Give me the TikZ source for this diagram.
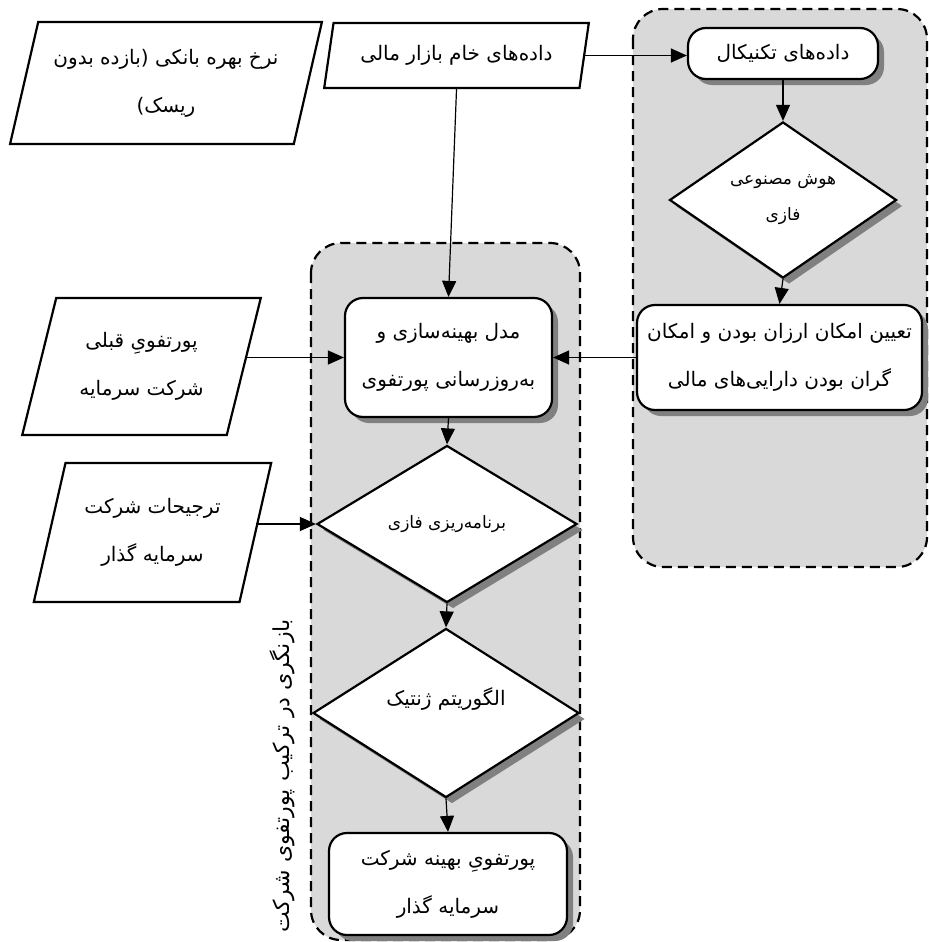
\documentclass[tikz,border=0pt]{standalone}
\usepackage{fontspec}
\newfontfamily\fafont[Script=Arabic]{DejaVu Sans}
\TeXXeTstate=1
\usetikzlibrary{shapes.geometric,shadows,arrows.meta}
\newcommand\fa[1]{{\fafont\beginR #1\endR}}
\begin{document}
\begin{tikzpicture}[x=0.5pt,y=-0.5pt,
  every node/.style={font=\fontsize{10}{24}\selectfont},
  shad/.style={drop shadow={shadow xshift=3pt,shadow yshift=-3pt,fill=black!50,opacity=1}},
  arr/.style={draw,line width=0.6pt,-{Triangle[length=8pt,width=7pt]}},
  box/.style={draw,line width=1.1pt,rounded corners=9pt,fill=white,shad,align=center,inner sep=0pt},
  dia/.style={diamond,draw,line width=1.1pt,fill=white,shad,align=center,inner sep=0pt},
  para/.style={trapezium,trapezium left angle=70,trapezium right angle=110,trapezium stretches=true,
    draw,line width=1.1pt,fill=white,align=center,inner sep=0pt},
  grp/.style={draw,dash pattern=on 5pt off 3pt,fill=gray!30,rounded corners=15pt,line width=1.1pt}]
\useasboundingbox (0,0) rectangle (929,942);
% containers
\draw[grp] (633,9) rectangle (927,567);
\draw[grp] (311,243) rectangle (580,940);
% nodes
\node[para,minimum width=156pt,minimum height=61pt] (rate) at (166,83)
  {\fa{نرخ بهره بانکی (بازده بدون}\\\fa{ریسک)}};
\node[para,minimum width=132.5pt,minimum height=32.5pt] (raw) at (456.5,55.5)
  {\fa{داده‌های خام بازار مالی}};
\node[para,minimum width=119.5pt,minimum height=68.5pt] (prev) at (141.5,366.5)
  {\fa{پورتفویِ قبلی}\\\fa{شرکت سرمایه}};
\node[para,minimum width=119.5pt,minimum height=69.5pt] (pref) at (152.5,532.5)
  {\fa{ترجیحات شرکت}\\\fa{سرمایه گذار}};
\node[box,minimum width=95pt,minimum height=25.5pt] (tech) at (783,53.5)
  {\fa{داده‌های تکنیکال}};
\node[dia,minimum width=113.5pt,minimum height=73pt,font=\fontsize{8.5}{18}\selectfont] (ai) at (783,200)
  {\fa{هوش مصنوعی}\\\fa{فازی}};
\node[box,minimum width=142.5pt,minimum height=52.5pt] (cheap) at (779.5,357.5)
  {\fa{تعیین امکان ارزان بودن و امکان}\\\fa{گران بودن دارایی‌های مالی}};
\node[box,minimum width=103.5pt,minimum height=59.5pt] (opt) at (448.5,357.5)
  {\fa{مدل بهینه‌سازی و}\\\fa{به‌روزرسانی پورتفوی}};
\node[dia,minimum width=130pt,minimum height=78.5pt,font=\fontsize{8.5}{18}\selectfont] (fp) at (447,524)
  {\fa{برنامه‌ریزی فازی}};
\node[dia,minimum width=133pt,minimum height=78.5pt] (ga) at (446,713)
  {\fa{الگوریتم ژنتیک}\\[-8pt]~};
\node[box,minimum width=119pt,minimum height=51pt] (final) at (448,884)
  {\fa{پورتفویِ بهینه شرکت}\\\fa{سرمایه گذار}};
\node[rotate=90,font=\fontsize{11}{24}\selectfont] (lbl) at (282,776) {\fa{بازنگری در ترکیب پورتفوی شرکت}};
% connectors
\draw[arr] (raw.east) -- (raw.east -| tech.west);
\draw[arr] (raw.south) -- (opt.north);
\draw[arr] (tech.south) -- (ai.north);
\draw[arr] (ai.south) -- (cheap.north);
\draw[arr] (cheap.west) -- (opt.east);
\draw[arr] (prev.east |- opt.west) -- (opt.west);
\draw[arr] (opt.south) -- (fp.north);
\draw[arr] (pref.east |- fp.west) -- (fp.west);
\draw[arr] (fp.south) -- (ga.north);
\draw[arr] (ga.south) -- (final.north);
\end{tikzpicture}
\end{document}
